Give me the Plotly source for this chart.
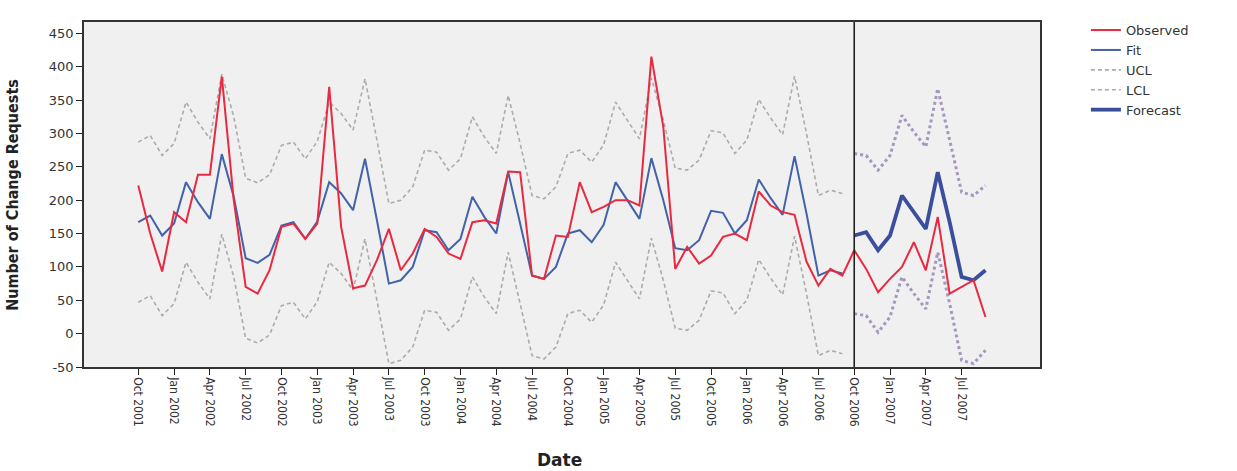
import pandas as pd
import plotly.graph_objects as go

# ---- data ----
months = list(pd.date_range("2001-10-01", periods=72, freq="MS").strftime("%b %Y"))
fit_months = months[:60]
fc_months = months[60:]
tick_labels = months[::3]

observed = [222, 150, 93, 182, 167, 238, 238, 385, 200, 70, 60, 95,
            160, 165, 142, 165, 370, 160, 68, 72, 110, 157, 95, 120,
            157, 145, 120, 112, 167, 170, 165, 243, 242, 87, 82, 147,
            145, 227, 182, 190, 200, 200, 192, 415, 310, 97, 130, 105,
            117, 145, 150, 140, 213, 192, 182, 178, 108, 72, 97, 87,
            125, 97, 62, 82, 100, 137, 95, 175, 60, 70, 80, 25]

fit = [167, 177, 147, 165, 227, 197, 172, 269, 205, 113, 106, 118,
       162, 167, 142, 168, 227, 210, 185, 262, 170, 75, 80, 100,
       155, 152, 125, 142, 205, 175, 150, 242, 165, 87, 82, 100,
       150, 155, 137, 163, 227, 200, 172, 263, 200, 128, 125, 140,
       184, 181, 150, 170, 231, 203, 178, 266, 180, 87, 95, 90]

ucl = [287, 297, 267, 285, 347, 317, 292, 389, 325, 233, 226, 238,
       282, 287, 262, 288, 347, 330, 305, 382, 290, 195, 200, 220,
       275, 272, 245, 262, 325, 295, 270, 357, 285, 207, 202, 220,
       270, 275, 257, 283, 347, 320, 292, 383, 320, 248, 245, 260,
       304, 301, 270, 290, 351, 323, 298, 386, 300, 207, 215, 210]

lcl = [47, 57, 27, 45, 107, 77, 52, 149, 85, -7, -14, -2,
       42, 47, 22, 48, 107, 90, 65, 142, 50, -45, -40, -20,
       35, 32, 5, 22, 85, 55, 30, 122, 45, -33, -38, -20,
       30, 35, 17, 43, 107, 80, 52, 143, 80, 8, 5, 20,
       64, 61, 30, 50, 111, 83, 58, 146, 60, -33, -25, -30]

forecast = [147, 152, 125, 147, 207, 182, 157, 242, 167, 85, 80, 95]
ucl_fc = [270, 267, 245, 267, 327, 302, 280, 367, 290, 212, 207, 222]
lcl_fc = [30, 27, 2, 25, 85, 60, 37, 122, 45, -40, -45, -25]

y_ticks = [-50, 0, 50, 100, 150, 200, 250, 300, 350, 400, 450]
y_tick_text = [str(v) for v in y_ticks]

# ---- styles ----
RED = "#e8293f"
BLUE = "#4262aa"
NAVY = "#3a4f9c"
GREY = "#ababab"
LILAC = "#a597bf"
WIDE = "DejaVu Sans, Arial, sans-serif"
NARROW = "DejaVu Sans Condensed, Liberation Sans Narrow, Arial Narrow, sans-serif"

fig = go.Figure()
fig.add_trace(go.Scatter(x=fit_months, y=ucl, name="UCL", mode="lines", legendrank=3,
                         line=dict(color=GREY, width=1.6, dash="4px,3px")))
fig.add_trace(go.Scatter(x=fit_months, y=lcl, name="LCL", mode="lines", legendrank=4,
                         line=dict(color=GREY, width=1.6, dash="4px,3px")))
fig.add_trace(go.Scatter(x=fc_months, y=ucl_fc, name="UCL", mode="lines", showlegend=False,
                         line=dict(color=LILAC, width=3, dash="dot")))
fig.add_trace(go.Scatter(x=fc_months, y=lcl_fc, name="LCL", mode="lines", showlegend=False,
                         line=dict(color=LILAC, width=3, dash="dot")))
fig.add_trace(go.Scatter(x=fit_months, y=fit, name="Fit", mode="lines", legendrank=2,
                         line=dict(color=BLUE, width=2)))
fig.add_trace(go.Scatter(x=fc_months, y=forecast, name="Forecast", mode="lines", legendrank=5,
                         line=dict(color=NAVY, width=3.8)))
fig.add_trace(go.Scatter(x=months, y=observed, name="Observed", mode="lines", legendrank=1,
                         line=dict(color=RED, width=2)))

fig.add_vline(x=months.index(fc_months[0]), line=dict(color="#222222", width=1.6))

fig.update_layout(
    width=1237, height=471,
    margin=dict(l=84, r=197, t=22, b=104),
    paper_bgcolor="white", plot_bgcolor="#f0f0f0",
    font=dict(family=WIDE, color="#333333"),
    showlegend=True,
    legend=dict(x=1.048, y=1.02, xanchor="left", yanchor="top",
                bgcolor="rgba(0,0,0,0)", font=dict(family=WIDE, size=13, color="#333333"),
                tracegroupgap=0),
    xaxis=dict(type="category", categoryorder="array", categoryarray=months,
               range=[-4.55, 75.57], tickmode="array", tickvals=tick_labels, ticktext=tick_labels,
               tickangle=90, ticks="outside", ticklen=6, tickcolor="#222",
               tickfont=dict(family=NARROW, size=12, color="#333333"),
               showline=True, linecolor="#333333", linewidth=1.5, mirror=True,
               showgrid=False, zeroline=False),
    yaxis=dict(range=[-50, 467], tickmode="array", tickvals=y_ticks, ticktext=y_tick_text,
               ticks="outside", ticklen=6, tickcolor="#222",
               tickfont=dict(family=WIDE, size=13, color="#333333"),
               showline=True, linecolor="#333333", linewidth=1.5, mirror=True,
               showgrid=False, zeroline=False),
    annotations=[
        dict(text="<b>Number of Change Requests</b>", textangle=-90, xref="paper", yref="paper",
             x=-0.075, y=0.5, xanchor="center", yanchor="middle", showarrow=False,
             font=dict(family=NARROW, size=16, color="#222222")),
        dict(text="<b>Date</b>", xref="paper", yref="paper", x=0.497, y=-0.27,
             xanchor="center", yanchor="middle", showarrow=False,
             font=dict(family=WIDE, size=17, color="#222222")),
    ],
)

fig.write_html("out.html")
